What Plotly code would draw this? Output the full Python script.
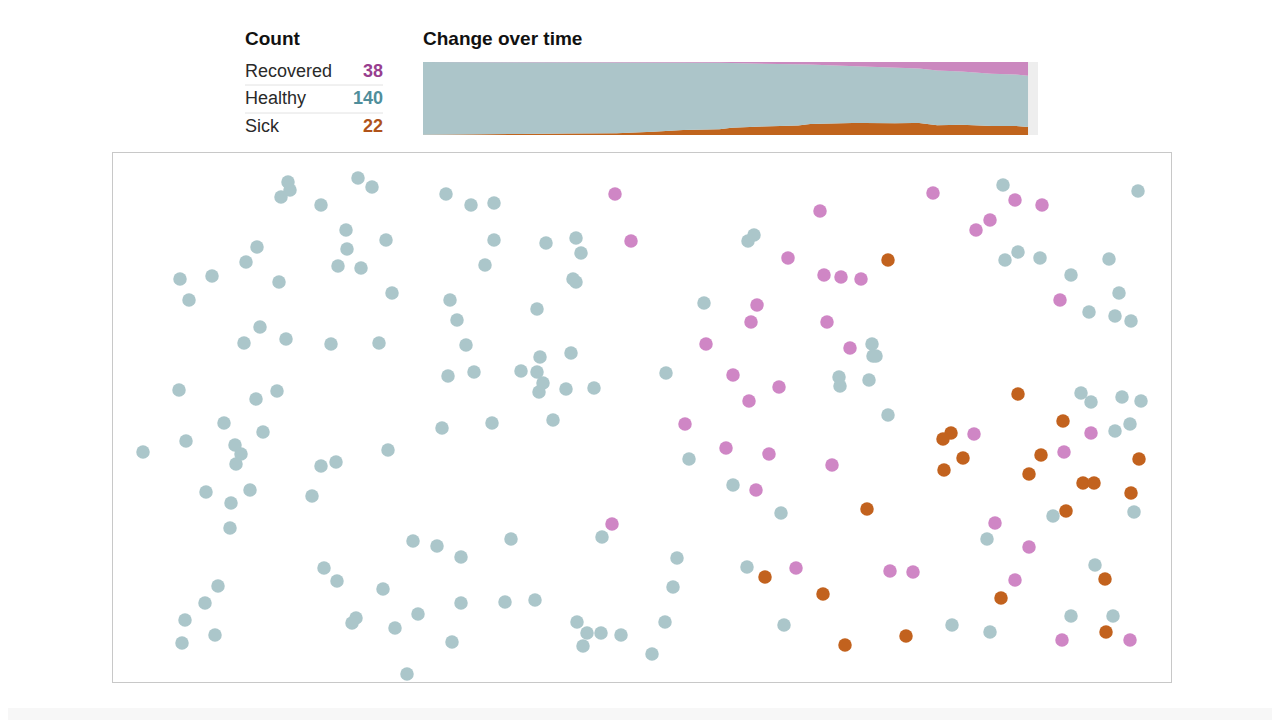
import plotly.graph_objects as go

# ---------------- data ----------------
W, H = 1280, 720

# agent positions inside the simulation box (box units: 0..1058 wide, 0..529 high)
healthy_x = [175, 177, 168, 245, 259, 333, 208, 233, 273, 234, 144, 133, 225, 248, 67, 99, 76, 166, 279, 337,
             344, 147, 131, 173, 218, 266, 353, 335, 66, 143, 164, 111, 73, 150, 30, 122, 128, 123, 329, 275,
             223, 208, 93, 137, 118, 199, 117, 300, 324, 348, 211, 224, 270, 105, 92, 72, 69, 102, 243, 239,
             305, 282, 348, 339, 294, 358, 381, 381, 433, 463, 468, 641, 635, 372, 460, 463, 424, 591, 427, 458,
             361, 408, 424, 430, 426, 453, 481, 553, 379, 440, 576, 620, 668, 489, 398, 564, 634, 560, 392, 422,
             464, 474, 488, 508, 470, 552, 539, 671, 890, 1025, 892, 905, 927, 996, 958, 1006, 976, 1002, 1018, 759,
             760, 763, 726, 727, 756, 968, 978, 1009, 1028, 775, 1017, 1002, 940, 1021, 874, 982, 958, 1000, 839, 877]
healthy_y = [500, 492, 485, 504, 495, 488, 477, 452, 442, 433, 435, 420, 416, 414, 403, 406, 382, 400, 389, 382,
             362, 355, 339, 343, 338, 339, 337, 306, 292, 283, 291, 259, 241, 250, 230, 237, 228, 218, 254, 232,
             220, 216, 190, 192, 179, 186, 154, 141, 136, 125, 114, 101, 93, 96, 79, 62, 39, 47, 64, 59,
             68, 54, 79, 40, 8, 477, 479, 442, 439, 444, 429, 447, 441, 417, 403, 400, 373, 379, 325, 329,
             310, 311, 310, 299, 290, 293, 294, 309, 259, 262, 223, 197, 169, 145, 143, 124, 115, 95, 80, 82,
             60, 49, 49, 47, 36, 60, 28, 57, 497, 491, 422, 430, 424, 423, 407, 389, 370, 366, 361, 338,
             326, 326, 305, 296, 302, 289, 280, 285, 281, 267, 258, 251, 166, 170, 143, 117, 66, 66, 57, 50]

recovered_x = [502, 518, 675, 644, 638, 593, 620, 666, 636, 572, 613, 656, 643, 499, 683, 707, 820, 902, 929, 877,
               863, 711, 728, 748, 947, 714, 737, 978, 861, 719, 951, 882, 916, 777, 800, 902, 949, 1017]
recovered_y = [488, 441, 424, 377, 360, 338, 307, 295, 281, 258, 234, 228, 192, 158, 114, 471, 489, 482, 477, 462,
               452, 407, 405, 403, 382, 360, 334, 249, 248, 217, 230, 159, 135, 111, 110, 102, 42, 42]

sick_x = [652, 775, 905, 950, 838, 830, 850, 831, 928, 1026, 916, 970, 981, 1018, 754, 953, 992, 710, 888, 793,
          732, 993]
sick_y = [105, 422, 288, 261, 249, 243, 224, 212, 227, 223, 208, 199, 199, 189, 173, 171, 103, 88, 84, 46,
          37, 50]

# change over time (counts per state)
days = [0, 6, 7, 16, 24, 32, 38, 39, 43, 49, 51, 56, 62, 64, 67, 69, 71, 73, 76, 78, 81, 82, 85, 89, 94, 98, 100]
sick_t = [1, 1, 2, 3, 4, 5, 9, 10, 14, 16, 20, 23, 26, 30, 32, 33, 33, 33, 32, 32, 33, 33, 27, 28, 25, 25, 22]
healthy_t = [199, 199, 198, 197, 196, 195, 191, 189, 185, 182, 177, 173, 168, 163, 159, 157, 154, 154, 154, 153,
             150, 149, 150, 146, 143, 141, 140]
recovered_t = [0, 0, 0, 0, 0, 0, 0, 1, 1, 2, 3, 4, 6, 7, 9, 10, 13, 13, 14, 15, 17, 18, 23, 26, 32, 34, 38]

count_labels = ["Recovered", "Healthy", "Sick"]
count_values = [38, 140, 22]

# ---------------- styles ----------------
C_HEALTHY = "#abc6ca"
C_RECOVERED = "#cf86c5"
C_SICK = "#c2621e"
A_HEALTHY = "#acc5c9"
A_RECOVERED = "#cb88bf"
A_SICK = "#c0641d"
NUM_COLORS = ["#983e8f", "#4f8e9b", "#b0531a"]
FONT = "Liberation Sans, Arial, sans-serif"
OFF = 8  # page body margin


def px(x):
    return (x - OFF) / W


def py(y):
    return 1 - (y - OFF) / H


fig = go.Figure()

# simulation scatter
for xs, ys, col in [(healthy_x, healthy_y, C_HEALTHY),
                    (recovered_x, recovered_y, C_RECOVERED),
                    (sick_x, sick_y, C_SICK)]:
    fig.add_trace(go.Scatter(x=xs, y=ys, mode="markers", xaxis="x", yaxis="y",
                             marker=dict(size=13.5, color=col, line=dict(width=0)),
                             cliponaxis=False, hoverinfo="skip", showlegend=False))

# stacked area
for vals, col in [(sick_t, A_SICK), (healthy_t, A_HEALTHY), (recovered_t, A_RECOVERED)]:
    fig.add_trace(go.Scatter(x=days, y=vals, mode="lines", stackgroup="s", xaxis="x2", yaxis="y2",
                             line=dict(width=0, color=col), fillcolor=col,
                             hoverinfo="skip", showlegend=False))

annotations = [
    dict(text="<b>Count</b>", x=px(245), y=py(39), xanchor="left", yanchor="middle", xshift=-2,
         font=dict(size=19, color="#111111", family=FONT)),
    dict(text="<b>Change over time</b>", x=px(423), y=py(39), xanchor="left", yanchor="middle", xshift=-2,
         font=dict(size=19, color="#111111", family=FONT)),
]
row_y = [71, 98, 126]
for lab, val, col, yy in zip(count_labels, count_values, NUM_COLORS, row_y):
    annotations.append(dict(text=lab, x=px(245), y=py(yy), xanchor="left", yanchor="middle", xshift=-2,
                            font=dict(size=18, color="#2a2a2a", family=FONT)))
    annotations.append(dict(text=f"<b>{val}</b>", x=px(384), y=py(yy), xanchor="right", yanchor="middle",
                            xshift=1, font=dict(size=18, color=col, family=FONT)))
for a in annotations:
    a.update(xref="paper", yref="paper", showarrow=False)

shapes = [
    dict(type="line", xref="paper", yref="paper", x0=px(245), x1=px(383), y0=py(85), y1=py(85),
         line=dict(color="#e2e2e2", width=1)),
    dict(type="line", xref="paper", yref="paper", x0=px(245), x1=px(383), y0=py(113), y1=py(113),
         line=dict(color="#e2e2e2", width=1)),
    dict(type="rect", xref="x2 domain", yref="y2 domain", x0=0, x1=1, y0=0, y1=1,
         fillcolor="#eeeeee", line=dict(width=0), layer="below"),
    dict(type="rect", xref="paper", yref="paper", x0=0, x1=1, y0=0, y1=py(708),
         fillcolor="#f7f7f7", line=dict(width=0), layer="below"),
]

fig.update_layout(
    width=W, height=H,
    margin=dict(l=0, r=0, t=0, b=0),
    paper_bgcolor="white", plot_bgcolor="white",
    showlegend=False,
    xaxis=dict(domain=[px(113), px(1171)], range=[0, 1058], showgrid=False, zeroline=False,
               showticklabels=False, ticks="", showline=True, mirror=True, linecolor="#c8c8c8",
               linewidth=1, fixedrange=True),
    yaxis=dict(domain=[py(682), py(153)], range=[0, 529], showgrid=False, zeroline=False,
               showticklabels=False, ticks="", showline=True, mirror=True, linecolor="#c8c8c8",
               linewidth=1, fixedrange=True),
    xaxis2=dict(domain=[px(423), px(1038)], range=[0, 101.65], showgrid=False, zeroline=False,
                showticklabels=False, ticks="", showline=False, anchor="y2"),
    yaxis2=dict(domain=[py(135), py(62)], range=[0, 200], showgrid=False, zeroline=False,
                showticklabels=False, ticks="", showline=False, anchor="x2"),
    annotations=annotations,
    shapes=shapes,
)

fig.write_html("out.html")
